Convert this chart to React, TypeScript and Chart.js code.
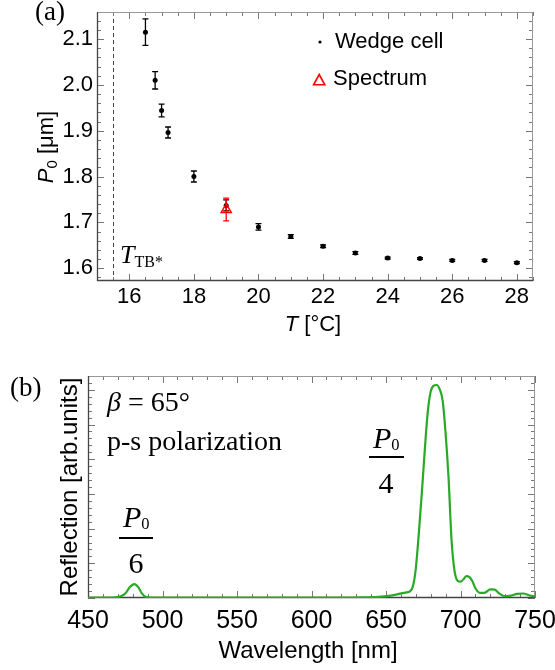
import React, { useEffect, useRef } from "react";
import { Chart, registerables } from "chart.js";

Chart.register(...registerables);

const SANS = "'Liberation Sans', Arial, Helvetica, sans-serif";
const SERIF = "'Liberation Serif', 'Times New Roman', Times, serif";

// ---------- Panel (a) data ----------
const temps = [16.5, 16.8, 17.0, 17.2, 18, 19, 20, 21, 22, 23, 24, 25, 26, 27, 28];
const p0 = [2.115, 2.01, 1.944, 1.896, 1.8, 1.737, 1.69, 1.669, 1.648, 1.633, 1.622, 1.621, 1.617, 1.617, 1.612];
const p0Err = [0.029, 0.019, 0.014, 0.012, 0.012, 0.012, 0.007, 0.004, 0.003, 0.003, 0.002, 0.002, 0.002, 0.002, 0.002];
const specT = [19];
const specP = [1.728];
const specErr = [0.025];
const tbTemp = 15.5;
const xTicksA = [16, 18, 20, 22, 24, 26, 28];
const yTicksA = [1.6, 1.7, 1.8, 1.9, 2.0, 2.1];

// ---------- Panel (b) data ----------
const wavelength = [450, 460, 468, 472, 475, 478, 481, 484, 486, 489, 495, 520, 560, 600, 630, 645, 652, 658, 662, 665, 668, 670, 672, 674, 676, 678, 680, 682, 684, 686, 688, 690, 692, 694, 696, 698, 700, 702, 704, 706, 708, 710, 713, 716, 720, 723, 726, 730, 734, 738, 742, 746, 750];
const reflection = [0.01, 0.01, 0.02, 0.05, 0.13, 0.31, 0.4, 0.3, 0.14, 0.03, 0.01, 0.01, 0.01, 0.01, 0.015, 0.03, 0.06, 0.11, 0.15, 0.17, 0.33, 0.85, 1.85, 3.0, 4.25, 5.35, 5.95, 6.12, 6.14, 6.02, 5.7, 4.75, 3.45, 1.67, 0.78, 0.5, 0.47, 0.54, 0.63, 0.6, 0.48, 0.28, 0.15, 0.15, 0.25, 0.24, 0.13, 0.05, 0.07, 0.12, 0.13, 0.08, 0.04];
const xTicksB = [450, 500, 550, 600, 650, 700, 750];
const yTicksB = [0, 1, 2, 3, 4, 5, 6];

// ---------- plugins ----------
const framePlugin = {
  id: "frame",
  beforeDatasetsDraw(chart: any, _args: any, opts: any) {
    const { ctx, chartArea: a } = chart;
    const xs = chart.scales.x;
    const ys = chart.scales.y;
    ctx.save();
    if (opts.dashX != null) {
      const px = Math.round(xs.getPixelForValue(opts.dashX)) + 0.5;
      ctx.strokeStyle = "#444";
      ctx.lineWidth = 1;
      ctx.setLineDash([4, 3]);
      ctx.beginPath();
      ctx.moveTo(px, a.top);
      ctx.lineTo(px, a.bottom);
      ctx.stroke();
      ctx.setLineDash([]);
    }
    const minorVals = (scale: any, step: number) => {
      const out: number[] = [];
      const start = Math.ceil(scale.min / step - 1e-9);
      for (let k = start; k * step <= scale.max + 1e-9; k++) out.push(k * step);
      return out;
    };
    ctx.strokeStyle = "#777";
    ctx.lineWidth = 1;
    ctx.beginPath();
    const dX = (v: number, len: number) => {
      const p = Math.round(xs.getPixelForValue(v)) + 0.5;
      ctx.moveTo(p, a.bottom);
      ctx.lineTo(p, a.bottom - len);
      ctx.moveTo(p, a.top);
      ctx.lineTo(p, a.top + len);
    };
    const dY = (v: number, len: number) => {
      const p = Math.round(ys.getPixelForValue(v)) + 0.5;
      ctx.moveTo(a.left, p);
      ctx.lineTo(a.left + len, p);
      ctx.moveTo(a.right, p);
      ctx.lineTo(a.right - len, p);
    };
    minorVals(xs, opts.xMinor).forEach((v) => dX(v, opts.minor));
    xs.ticks.forEach((t: any) => dX(t.value, opts.major));
    minorVals(ys, opts.yMinor).forEach((v) => dY(v, opts.minor));
    ys.ticks.forEach((t: any) => dY(t.value, opts.major));
    ctx.stroke();
    ctx.strokeStyle = "#999";
    ctx.beginPath();
    ctx.moveTo(a.left, a.top + 0.5);
    ctx.lineTo(a.right, a.top + 0.5);
    ctx.moveTo(a.right - 0.5, a.top);
    ctx.lineTo(a.right - 0.5, a.bottom);
    ctx.stroke();
    ctx.strokeStyle = "#444";
    ctx.lineWidth = 1.3;
    ctx.beginPath();
    ctx.moveTo(a.left + 0.5, a.top);
    ctx.lineTo(a.left + 0.5, a.bottom - 0.5);
    ctx.lineTo(a.right, a.bottom - 0.5);
    ctx.stroke();
    ctx.restore();
  },
};

const errorBarPlugin = {
  id: "errorBars",
  beforeDatasetDraw(chart: any, args: any) {
    const ds = chart.data.datasets[args.index];
    if (!ds.errorBars) return;
    const { ctx } = chart;
    const ys = chart.scales.y;
    ctx.save();
    ctx.strokeStyle = ds.errorColor;
    ctx.lineWidth = 1.3;
    args.meta.data.forEach((el: any, i: number) => {
      const v = ds.data[i].y;
      const e = ds.errorBars[i];
      const x = el.x;
      const y1 = ys.getPixelForValue(v - e);
      const y2 = ys.getPixelForValue(v + e);
      ctx.beginPath();
      ctx.moveTo(x, y1);
      ctx.lineTo(x, y2);
      ctx.moveTo(x - 3, y1);
      ctx.lineTo(x + 3, y1);
      ctx.moveTo(x - 3, y2);
      ctx.lineTo(x + 3, y2);
      ctx.stroke();
    });
    ctx.restore();
  },
};

const legendMarkPlugin = {
  id: "legendMarks",
  afterDraw(chart: any) {
    const { ctx } = chart;
    ctx.save();
    ctx.fillStyle = "#000";
    ctx.beginPath();
    ctx.arc(320, 42, 1.6, 0, Math.PI * 2);
    ctx.fill();
    ctx.strokeStyle = "#ff0000";
    ctx.lineWidth = 1.6;
    ctx.beginPath();
    ctx.moveTo(319.2, 74.5);
    ctx.lineTo(313.6, 84.8);
    ctx.lineTo(324.8, 84.8);
    ctx.closePath();
    ctx.stroke();
    ctx.restore();
  },
};

const fixScale = (w?: number, h?: number) => (s: any) => {
  if (w != null) s.width = w;
  if (h != null) s.height = h;
  s.paddingLeft = 0;
  s.paddingRight = 0;
  s.paddingTop = 0;
  s.paddingBottom = 0;
};

function Txt({ x, y, size, serif, align = "left", children, style }: any) {
  const asc = serif ? 0.8375 : 0.8465;
  const tx = align === "center" ? "translateX(-50%)" : align === "right" ? "translateX(-100%)" : undefined;
  return (
    <div
      style={{
        position: "absolute",
        left: x,
        top: y - asc * size,
        fontSize: size,
        lineHeight: `${size}px`,
        fontFamily: serif ? SERIF : SANS,
        whiteSpace: "nowrap",
        color: "#000",
        transform: tx,
        ...style,
      }}
    >
      {children}
    </div>
  );
}

function VTxt({ cx, cy, size, children }: any) {
  return (
    <div
      style={{
        position: "absolute",
        left: cx,
        top: cy,
        fontSize: size,
        lineHeight: `${size}px`,
        fontFamily: SANS,
        whiteSpace: "nowrap",
        color: "#000",
        transform: "translate(-50%,-50%) rotate(-90deg)",
      }}
    >
      {children}
    </div>
  );
}

function Frac({ cx, numBase, lineY, lineW, denBase, den, size }: any) {
  return (
    <>
      <Txt x={cx - 13} y={numBase} size={size} serif>
        <i>P</i>
        <span style={{ fontSize: size * 0.55, position: "relative", top: size * 0.07 }}>0</span>
      </Txt>
      <div
        style={{
          position: "absolute",
          left: cx - lineW / 2,
          top: lineY - 0.75,
          width: lineW,
          height: 1.5,
          background: "#000",
        }}
      />
      <Txt x={cx} y={denBase} size={size} serif align="center">
        {den}
      </Txt>
    </>
  );
}

export default function App() {
  const refA = useRef<HTMLCanvasElement>(null);
  const refB = useRef<HTMLCanvasElement>(null);

  useEffect(() => {
    const tickFontA = { family: SANS, size: 22 };
    const tickFontB = { family: SANS, size: 25 };

    const chartA = new Chart(refA.current as HTMLCanvasElement, {
      type: "scatter",
      data: {
        datasets: [
          {
            label: "Spectrum",
            data: specT.map((t, i) => ({ x: t, y: specP[i] })),
            errorBars: specErr,
            errorColor: "#ff0000",
            pointStyle: "triangle",
            pointRadius: 5.8,
            borderColor: "#ff0000",
            backgroundColor: "rgba(0,0,0,0)",
            borderWidth: 1.5,
          } as any,
          {
            label: "Wedge cell",
            data: temps.map((t, i) => ({ x: t, y: p0[i] })),
            errorBars: p0Err,
            errorColor: "#000",
            pointRadius: 2.5,
            backgroundColor: "#000",
            borderColor: "#000",
            borderWidth: 0,
          } as any,
        ],
      },
      options: {
        animation: false,
        responsive: false,
        devicePixelRatio: 1,
        events: [],
        layout: { padding: { top: 12, right: 22, left: 0, bottom: 0 } },
        plugins: {
          legend: { display: false },
          tooltip: { enabled: false },
          frame: { xMinor: 0.5, yMinor: 0.02, major: 7, minor: 4, dashX: tbTemp },
        } as any,
        scales: {
          x: {
            type: "linear",
            min: 15,
            max: 28.5,
            afterBuildTicks: (s: any) => {
              s.ticks = xTicksA.map((v) => ({ value: v }));
            },
            afterFit: fixScale(undefined, 54),
            grid: { display: false, drawTicks: false },
            border: { display: false },
            ticks: { font: tickFontA, color: "#000", padding: 3, maxRotation: 0, autoSkip: false },
          },
          y: {
            type: "linear",
            min: 1.572,
            max: 2.159,
            afterBuildTicks: (s: any) => {
              s.ticks = yTicksA.map((v) => ({ value: v }));
            },
            afterFit: fixScale(97, undefined),
            grid: { display: false, drawTicks: false },
            border: { display: false },
            ticks: {
              font: tickFontA,
              color: "#000",
              padding: 4,
              autoSkip: false,
              callback: (v: any) => Number(v).toFixed(1),
            },
          },
        },
      },
      plugins: [framePlugin, errorBarPlugin, legendMarkPlugin],
    });

    const chartB = new Chart(refB.current as HTMLCanvasElement, {
      type: "line",
      data: {
        datasets: [
          {
            label: "Reflection",
            data: wavelength.map((w, i) => ({ x: w, y: reflection[i] })),
            borderColor: "rgb(40,170,40)",
            borderWidth: 2.2,
            pointRadius: 0,
            fill: false,
            cubicInterpolationMode: "monotone",
          },
        ],
      },
      options: {
        animation: false,
        responsive: false,
        devicePixelRatio: 1,
        events: [],
        layout: { padding: { top: 41, right: 20, left: 0, bottom: 0 } },
        plugins: {
          legend: { display: false },
          tooltip: { enabled: false },
          frame: { xMinor: 10, yMinor: 0.2, major: 7, minor: 4 },
        } as any,
        scales: {
          x: {
            type: "linear",
            min: 450,
            max: 750,
            afterBuildTicks: (s: any) => {
              s.ticks = xTicksB.map((v) => ({ value: v }));
            },
            afterFit: fixScale(undefined, 72),
            grid: { display: false, drawTicks: false },
            border: { display: false },
            ticks: { font: tickFontB, color: "#000", padding: 8, maxRotation: 0, autoSkip: false },
          },
          y: {
            type: "linear",
            min: 0,
            max: 6.4,
            afterBuildTicks: (s: any) => {
              s.ticks = yTicksB.map((v) => ({ value: v }));
            },
            afterFit: fixScale(88, undefined),
            grid: { display: false, drawTicks: false },
            border: { display: false },
            ticks: { display: false },
          },
        },
      },
      plugins: [framePlugin],
    });

    return () => {
      chartA.destroy();
      chartB.destroy();
    };
  }, []);

  return (
    <div
      style={{
        position: "absolute",
        left: 0,
        top: 0,
        width: 555,
        height: 670,
        background: "#fff",
        overflow: "hidden",
      }}
    >
      <canvas ref={refA} width={555} height={335} style={{ position: "absolute", left: 0, top: 0 }} />
      <canvas ref={refB} width={555} height={335} style={{ position: "absolute", left: 0, top: 335 }} />

      {/* Panel (a) texts */}
      <Txt x={35} y={20.5} size={27} serif>(a)</Txt>
      <VTxt cx={47} cy={147} size={22}>
        <i>P</i>
        <span style={{ fontSize: 15, position: "relative", top: 4 }}>0</span> [μm]
      </VTxt>
      <Txt x={313} y={332} size={22} align="center">
        <i>T</i> [°C]
      </Txt>
      <Txt x={120} y={264} size={26} serif>
        <i>T</i>
        <span style={{ fontSize: 16, position: "relative", top: 4 }}>TB*</span>
      </Txt>
      <Txt x={335} y={48.5} size={22}>Wedge cell</Txt>
      <Txt x={333} y={86} size={22}>Spectrum</Txt>

      {/* Panel (b) texts */}
      <Txt x={10} y={397} size={27} serif>(b)</Txt>
      <VTxt cx={69} cy={487} size={24}>Reflection [arb.units]</VTxt>
      <Txt x={308} y={658} size={24} align="center">Wavelength [nm]</Txt>
      <Txt x={107} y={411.5} size={28} serif>
        <i>β</i> = 65°
      </Txt>
      <Txt x={107} y={450} size={28} serif>p-s polarization</Txt>
      <Frac cx={136} numBase={527} lineY={538} lineW={34} denBase={573} den="6" size={30} />
      <Frac cx={386} numBase={448} lineY={457} lineW={35} denBase={493} den="4" size={30} />
    </div>
  );
}
